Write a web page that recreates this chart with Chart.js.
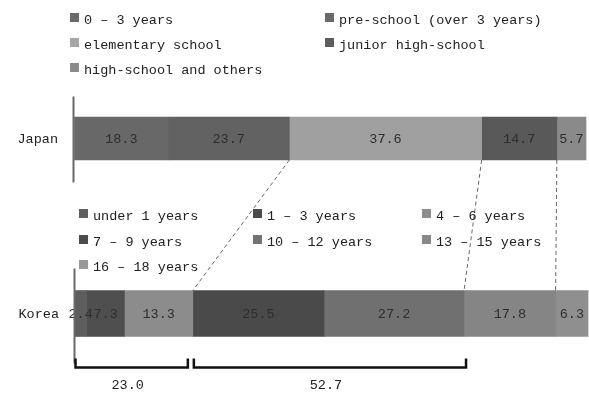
<!DOCTYPE html>
<html>
<head>
<meta charset="utf-8">
<script src="https://cdn.jsdelivr.net/npm/chart.js@4/dist/chart.umd.min.js"></script>
<style>
  body { margin: 0; background: #fff; }
  #wrap { width: 589px; height: 394px; }
</style>
</head>
<body>
<div id="wrap"><canvas id="grafico" width="589" height="394"></canvas></div>
<script>
const categories = ['Japan', 'Korea'];

const japanGroups = ['0 – 3 years', 'pre-school (over 3 years)', 'elementary school', 'junior high-school', 'high-school and others'];
const japanValues = [18.3, 23.7, 37.6, 14.7, 5.7];

const koreaGroups = ['under 1 years', '1 – 3 years', '4 – 6 years', '7 – 9 years', '10 – 12 years', '13 – 15 years', '16 – 18 years'];
const koreaValues = [2.4, 7.3, 13.3, 25.5, 27.2, 17.8, 6.3];

// brackets under Korea: from, to, label
const bracketFrom = [0, 23.0];
const bracketTo = [23.0, 75.7];
const bracketLabels = ['23.0', '52.7'];

// Japan boundary -> Korea boundary (cumulative values)
const linkJapan = [42.0, 79.6, 94.3];
const linkKorea = [23.0, 75.7, 93.5];

const japanColors = ['#686868', '#626262', '#a0a0a0', '#595959', '#8a8a8a'];
const koreaColors = ['#5e5e5e', '#4e4e4e', '#8c8c8c', '#4a4a4a', '#707070', '#858585', '#8f8f8f'];
const japanLegendColors = ['#6a6a6a', '#696969', '#a6a6a6', '#5c5c5c', '#8c8c8c'];
const koreaLegendColors = ['#5f5f5f', '#4b4b4b', '#8e8e8e', '#4c4c4c', '#737373', '#888888', '#999999'];

const fonte = '13.5px "Liberation Mono", "DejaVu Sans Mono", monospace';

const datasets = [];
japanValues.forEach((v, i) => {
    datasets.push({
        label: japanGroups[i],
        data: [v, null],
        backgroundColor: japanColors[i],
        barThickness: 43,
        xAxisID: 'x',
        clip: false
    });
});
koreaValues.forEach((v, i) => {
    datasets.push({
        label: koreaGroups[i],
        data: [null, v],
        backgroundColor: koreaColors[i],
        barThickness: 46,
        xAxisID: 'x2',   // a Korea bar e um pouco mais larga no original
        clip: false
    });
});

function desenharLegenda(ctx, labels, cores, colX, rowY) {
    ctx.font = fonte;
    ctx.textAlign = 'left';
    ctx.textBaseline = 'middle';
    labels.forEach((label, i) => {
        const col = i % colX.length;
        const row = Math.floor(i / colX.length);
        const x = colX[col];
        const y = rowY[row];
        ctx.fillStyle = cores[i];
        ctx.fillRect(x, y - 7, 9, 9);
        ctx.fillStyle = '#222';
        ctx.fillText(label, x + 14, y);
    });
}

const extras = {
    id: 'extras',
    afterDatasetsDraw(chart) {
        const ctx = chart.ctx;
        ctx.save();
        ctx.font = fonte;
        ctx.fillStyle = '#2e2e2e';
        ctx.textAlign = 'center';
        ctx.textBaseline = 'middle';
        chart.data.datasets.forEach((ds, di) => {
            const meta = chart.getDatasetMeta(di);
            meta.data.forEach((el, idx) => {
                const v = ds.data[idx];
                if (v == null) return;
                ctx.fillText(v.toFixed(1), (el.x + el.base) / 2, el.y + 1);
            });
        });
        ctx.restore();
    },
    afterDraw(chart) {
        const ctx = chart.ctx;
        const xs = chart.scales.x;
        const xk = chart.scales.x2;
        const ys = chart.scales.y;
        const yJ = ys.getPixelForValue(0);
        const yK = ys.getPixelForValue(1);
        const x0 = xs.getPixelForValue(0);
        ctx.save();

        // category labels
        ctx.font = fonte;
        ctx.fillStyle = '#222';
        ctx.textAlign = 'right';
        ctx.textBaseline = 'middle';
        ctx.fillText(categories[0], 58, yJ + 1);
        ctx.fillText(categories[1], 59, yK + 1);

        // vertical axis lines
        ctx.strokeStyle = '#6a6a6a';
        ctx.lineWidth = 2;
        ctx.beginPath();
        ctx.moveTo(x0 - 1, yJ - 42);
        ctx.lineTo(x0 - 1, yJ + 44);
        ctx.moveTo(x0, yK - 45);
        ctx.lineTo(x0, yK + 50);
        ctx.stroke();

        // dashed links
        ctx.strokeStyle = '#666';
        ctx.lineWidth = 1;
        ctx.setLineDash([4, 3]);
        linkJapan.forEach((v, i) => {
            ctx.beginPath();
            ctx.moveTo(xs.getPixelForValue(v), yJ + 21.5);
            ctx.lineTo(xk.getPixelForValue(linkKorea[i]), yK - 23);
            ctx.stroke();
        });
        ctx.setLineDash([]);

        // legends
        desenharLegenda(ctx, japanGroups, japanLegendColors, [70, 325], [20, 45, 70]);
        desenharLegenda(ctx, koreaGroups, koreaLegendColors, [79, 253, 422], [216, 242, 267]);

        // brackets
        ctx.strokeStyle = '#111';
        ctx.lineWidth = 2.5;
        const yb = yK + 54;
        bracketFrom.forEach((f, i) => {
            const a = xk.getPixelForValue(f) + 1;
            const b = xk.getPixelForValue(bracketTo[i]) + (i === 0 ? -5 : 2);
            ctx.beginPath();
            ctx.moveTo(a, yb - 9);
            ctx.lineTo(a, yb);
            ctx.lineTo(b, yb);
            ctx.lineTo(b, yb - 9);
            ctx.stroke();
            ctx.font = fonte;
            ctx.fillStyle = '#222';
            ctx.textAlign = 'center';
            ctx.textBaseline = 'middle';
            ctx.fillText(bracketLabels[i], (a + b) / 2 - 4, yb + 18);
        });
        ctx.restore();
    }
};

new Chart(document.getElementById('grafico').getContext('2d'), {
    type: 'bar',
    data: { labels: categories, datasets },
    options: {
        indexAxis: 'y',
        responsive: false,
        animation: false,
        layout: {
            padding: { left: 74.5, right: 3, top: 138.5, bottom: 80.5 }
        },
        plugins: {
            legend: { display: false },
            tooltip: { enabled: false }
        },
        scales: {
            x: { stacked: true, display: false, min: 0, max: 100 },
            x2: { stacked: true, display: false, min: 0, max: 99.4 },
            y: { stacked: true, display: false, offset: false }
        }
    },
    plugins: [extras]
});
</script>
</body>
</html>
